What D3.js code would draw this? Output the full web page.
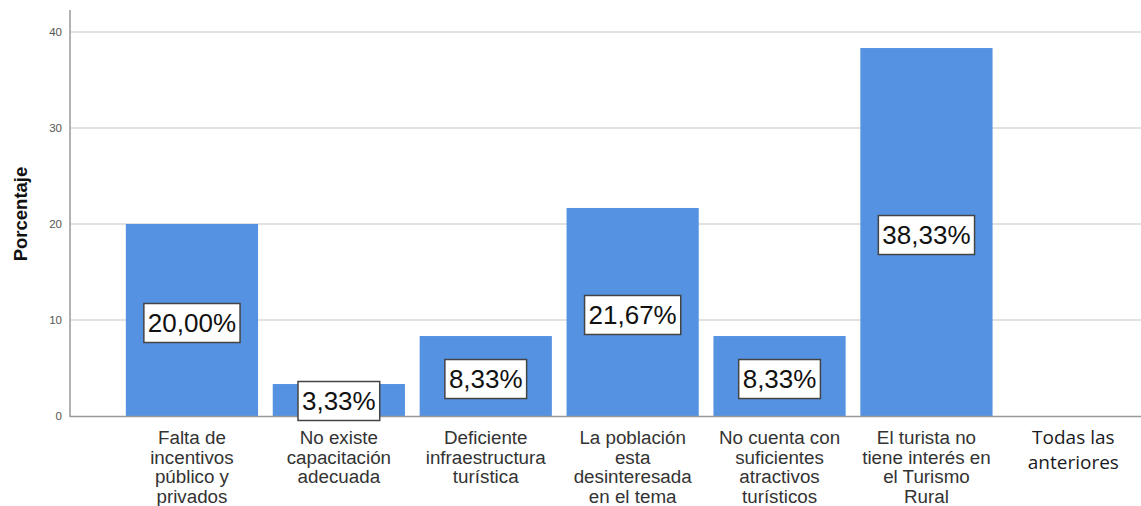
<!DOCTYPE html>
<html><head><meta charset="utf-8">
<script src="https://cdn.jsdelivr.net/npm/d3@7"></script>
<style>body{margin:0;background:#fff}svg{display:block}</style>
</head><body><svg id="c" width="1141" height="506"></svg>
<script>
const categories = [
  ["Falta de","incentivos","público y","privados"],
  ["No existe","capacitación","adecuada"],
  ["Deficiente","infraestructura","turística"],
  ["La población","esta","desinteresada","en el tema"],
  ["No cuenta con","suficientes","atractivos","turísticos"],
  ["El turista no","tiene interés en","el Turismo","Rural"],
  ["Todas las","anteriores"]
];
const values = [20.00, 3.33, 8.33, 21.67, 8.33, 38.33, null];
const labels = ["20,00%","3,33%","8,33%","21,67%","8,33%","38,33%",null];
const yTicks = [0,10,20,30,40];

const svg = d3.select("#c");
const x = d3.scaleBand().domain(d3.range(categories.length)).range([118.5,1146.8]).paddingInner(0.1).paddingOuter(0.05);
const y = d3.scaleLinear().domain([0,40]).range([416,32]);

// gridlines
svg.append("g").selectAll("line").data(yTicks.filter(d=>d>0)).join("line")
  .attr("x1",71).attr("x2",1141).attr("y1",d=>y(d)).attr("y2",d=>y(d))
  .attr("stroke","#d9d9d9").attr("stroke-width",1.3);

// y axis
const ya = svg.append("g").attr("transform","translate(70,0)")
  .call(d3.axisLeft(y).tickValues(yTicks).tickSize(0).tickPadding(8));
ya.select(".domain").remove();
ya.selectAll("text").attr("font-family","Liberation Sans, Arial, sans-serif").attr("font-size",11.5).attr("fill","#555");
svg.append("line").attr("x1",70).attr("x2",70).attr("y1",10).attr("y2",417).attr("stroke","#999").attr("stroke-width",1.5);

// bars
const idx = d3.range(values.length).filter(i=>values[i]!=null);
svg.append("g").selectAll("rect").data(idx).join("rect")
  .attr("x",i=>x(i)).attr("width",x.bandwidth())
  .attr("y",i=>y(values[i])).attr("height",i=>y(0)-y(values[i]))
  .attr("fill","#5592e2");

// baseline
svg.append("line").attr("x1",70).attr("x2",1141).attr("y1",416.5).attr("y2",416.5).attr("stroke","#999").attr("stroke-width",1.5);

// value labels
const lg = svg.append("g");
idx.forEach(i=>{
  const cx = x(i)+x.bandwidth()/2;
  let cy = y(values[i]/2) + 3;
  if (values[i] < 5) cy = 401;
  const t = lg.append("text").attr("x",cx).attr("y",cy).attr("text-anchor","middle")
    .attr("dominant-baseline","central").attr("font-family","Liberation Sans, Arial, sans-serif")
    .attr("font-size",26).attr("fill","#111").text(labels[i]);
  const b = t.node().getBBox();
  lg.insert("rect", () => t.node()).attr("x",b.x-4).attr("y",cy-19.5).attr("width",b.width+8).attr("height",39)
    .attr("fill","#fff").attr("stroke","#444").attr("stroke-width",1.5);
});

// category labels
const cg = svg.append("g");
categories.forEach((lines,i)=>{
  const cx = x(i)+x.bandwidth()/2;
  const last = i===categories.length-1;
  const t = cg.append("text").attr("x",cx).attr("text-anchor","middle")
    .attr("font-family", last ? "Open Sans, DejaVu Sans, sans-serif" : "Liberation Sans, Arial, sans-serif")
    .attr("font-size", last ? 19 : 18.8).attr("fill", last ? "#1a1a22" : "#333");
  lines.forEach((l,k)=>{
    t.append("tspan").attr("x",cx).attr("y", last ? 444 + k*25 : 444 + k*19.6).text(l);
  });
});

// y label
svg.append("text").attr("transform","translate(27,214) rotate(-90)").attr("text-anchor","middle")
  .attr("font-family","Liberation Sans, Arial, sans-serif").attr("font-weight","bold").attr("font-size",18.5)
  .attr("fill","#111").text("Porcentaje");
</script></body></html>
